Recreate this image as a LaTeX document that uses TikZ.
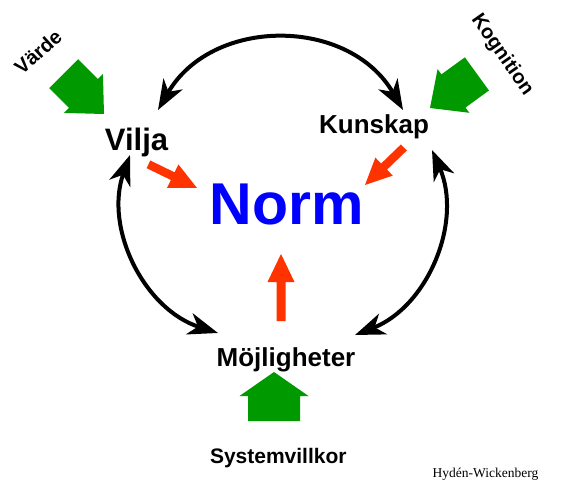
\documentclass[tikz,border=0pt]{standalone}
\usepackage{fontspec}
\setmainfont{Liberation Sans}
\newfontfamily\serifsnitt{Liberation Serif}
\usetikzlibrary{arrows.meta}
\definecolor{normbla}{RGB}{0,0,255}
\definecolor{pilgron}{RGB}{0,153,0}
\definecolor{pilrod}{RGB}{255,51,0}
% blockpil: färg, spets, vinkel, längd, skaftbredd, huvudbredd, huvudlängd
\newcommand{\blockpil}[7]{%
  \fill[#1,shift={(#2)},rotate=#3]
    (0,0) -- (-#7,#6/2) -- (-#7,#5/2) -- (-#4,#5/2)
    -- (-#4,-#5/2) -- (-#7,-#5/2) -- (-#7,-#6/2) -- cycle;}

\begin{document}
\begin{tikzpicture}[x=1pt,y=1pt,
  ord/.style={font=\bfseries\fontsize{#1}{#1}\selectfont,inner sep=0pt},
  dubbelpil/.style={line width=4pt,
    {Stealth[length=30pt,width=22pt,inset=9pt]}-{Stealth[length=30pt,width=22pt,inset=9pt]}}]
    \useasboundingbox (0,0) rectangle (561,482);

    % begrepp
    \node[ord=59,text=normbla,anchor=base] (norm) at (286.5,257) {Norm};
    \node[ord=31,anchor=base] (vilja) at (136.5,331.3) {Vilja};
    \node[ord=26,anchor=base] (kunskap) at (374,348.7) {Kunskap};
    \node[ord=26,anchor=base] (mojligheter) at (286,116) {Möjligheter};

    % påverkan utifrån
    \node[ord=20,rotate=42] (varde) at (38,430) {Värde};
    \node[ord=20,rotate=-55] (kognition) at (502,427) {Kognition};
    \node[ord=21,anchor=base] (systemvillkor) at (278.3,18.7) {Systemvillkor};

    % signatur
    \node[anchor=base,inner sep=0pt,font=\serifsnitt\fontsize{13.5}{14}\selectfont]
      (signatur) at (485.5,4.7) {Hydén-Wickenberg};

    % gröna pilar
    \blockpil{pilgron}{104,368}{-45}{57}{41}{55}{29}
    \blockpil{pilgron}{430,374}{216}{58}{41}{54}{29}
    \blockpil{pilgron}{274,110}{90}{49}{52}{69}{24}

    % röda pilar mot normen
    \blockpil{pilrod}{197,294}{-26}{54}{8.5}{26}{27}
    \blockpil{pilrod}{365,297}{224}{54}{8.5}{25}{26.5}
    \blockpil{pilrod}{281,228}{90}{67}{9}{27}{28}

    % ändpunkter för bågarna
    \coordinate (vk) at (158,372);
    \coordinate (kv) at (403,372);
    \coordinate (vm) at (130,327);
    \coordinate (mv) at (218,149);
    \coordinate (km) at (432,332);
    \coordinate (mk) at (355,147);

    % samspel
    \draw[dubbelpil] (vk) to[bend left=60,looseness=1.13] (kv);
    \draw[dubbelpil] (vm) to[bend right=46] (mv);
    \draw[dubbelpil] (km) to[bend left=46] (mk);
\end{tikzpicture}
\end{document}
